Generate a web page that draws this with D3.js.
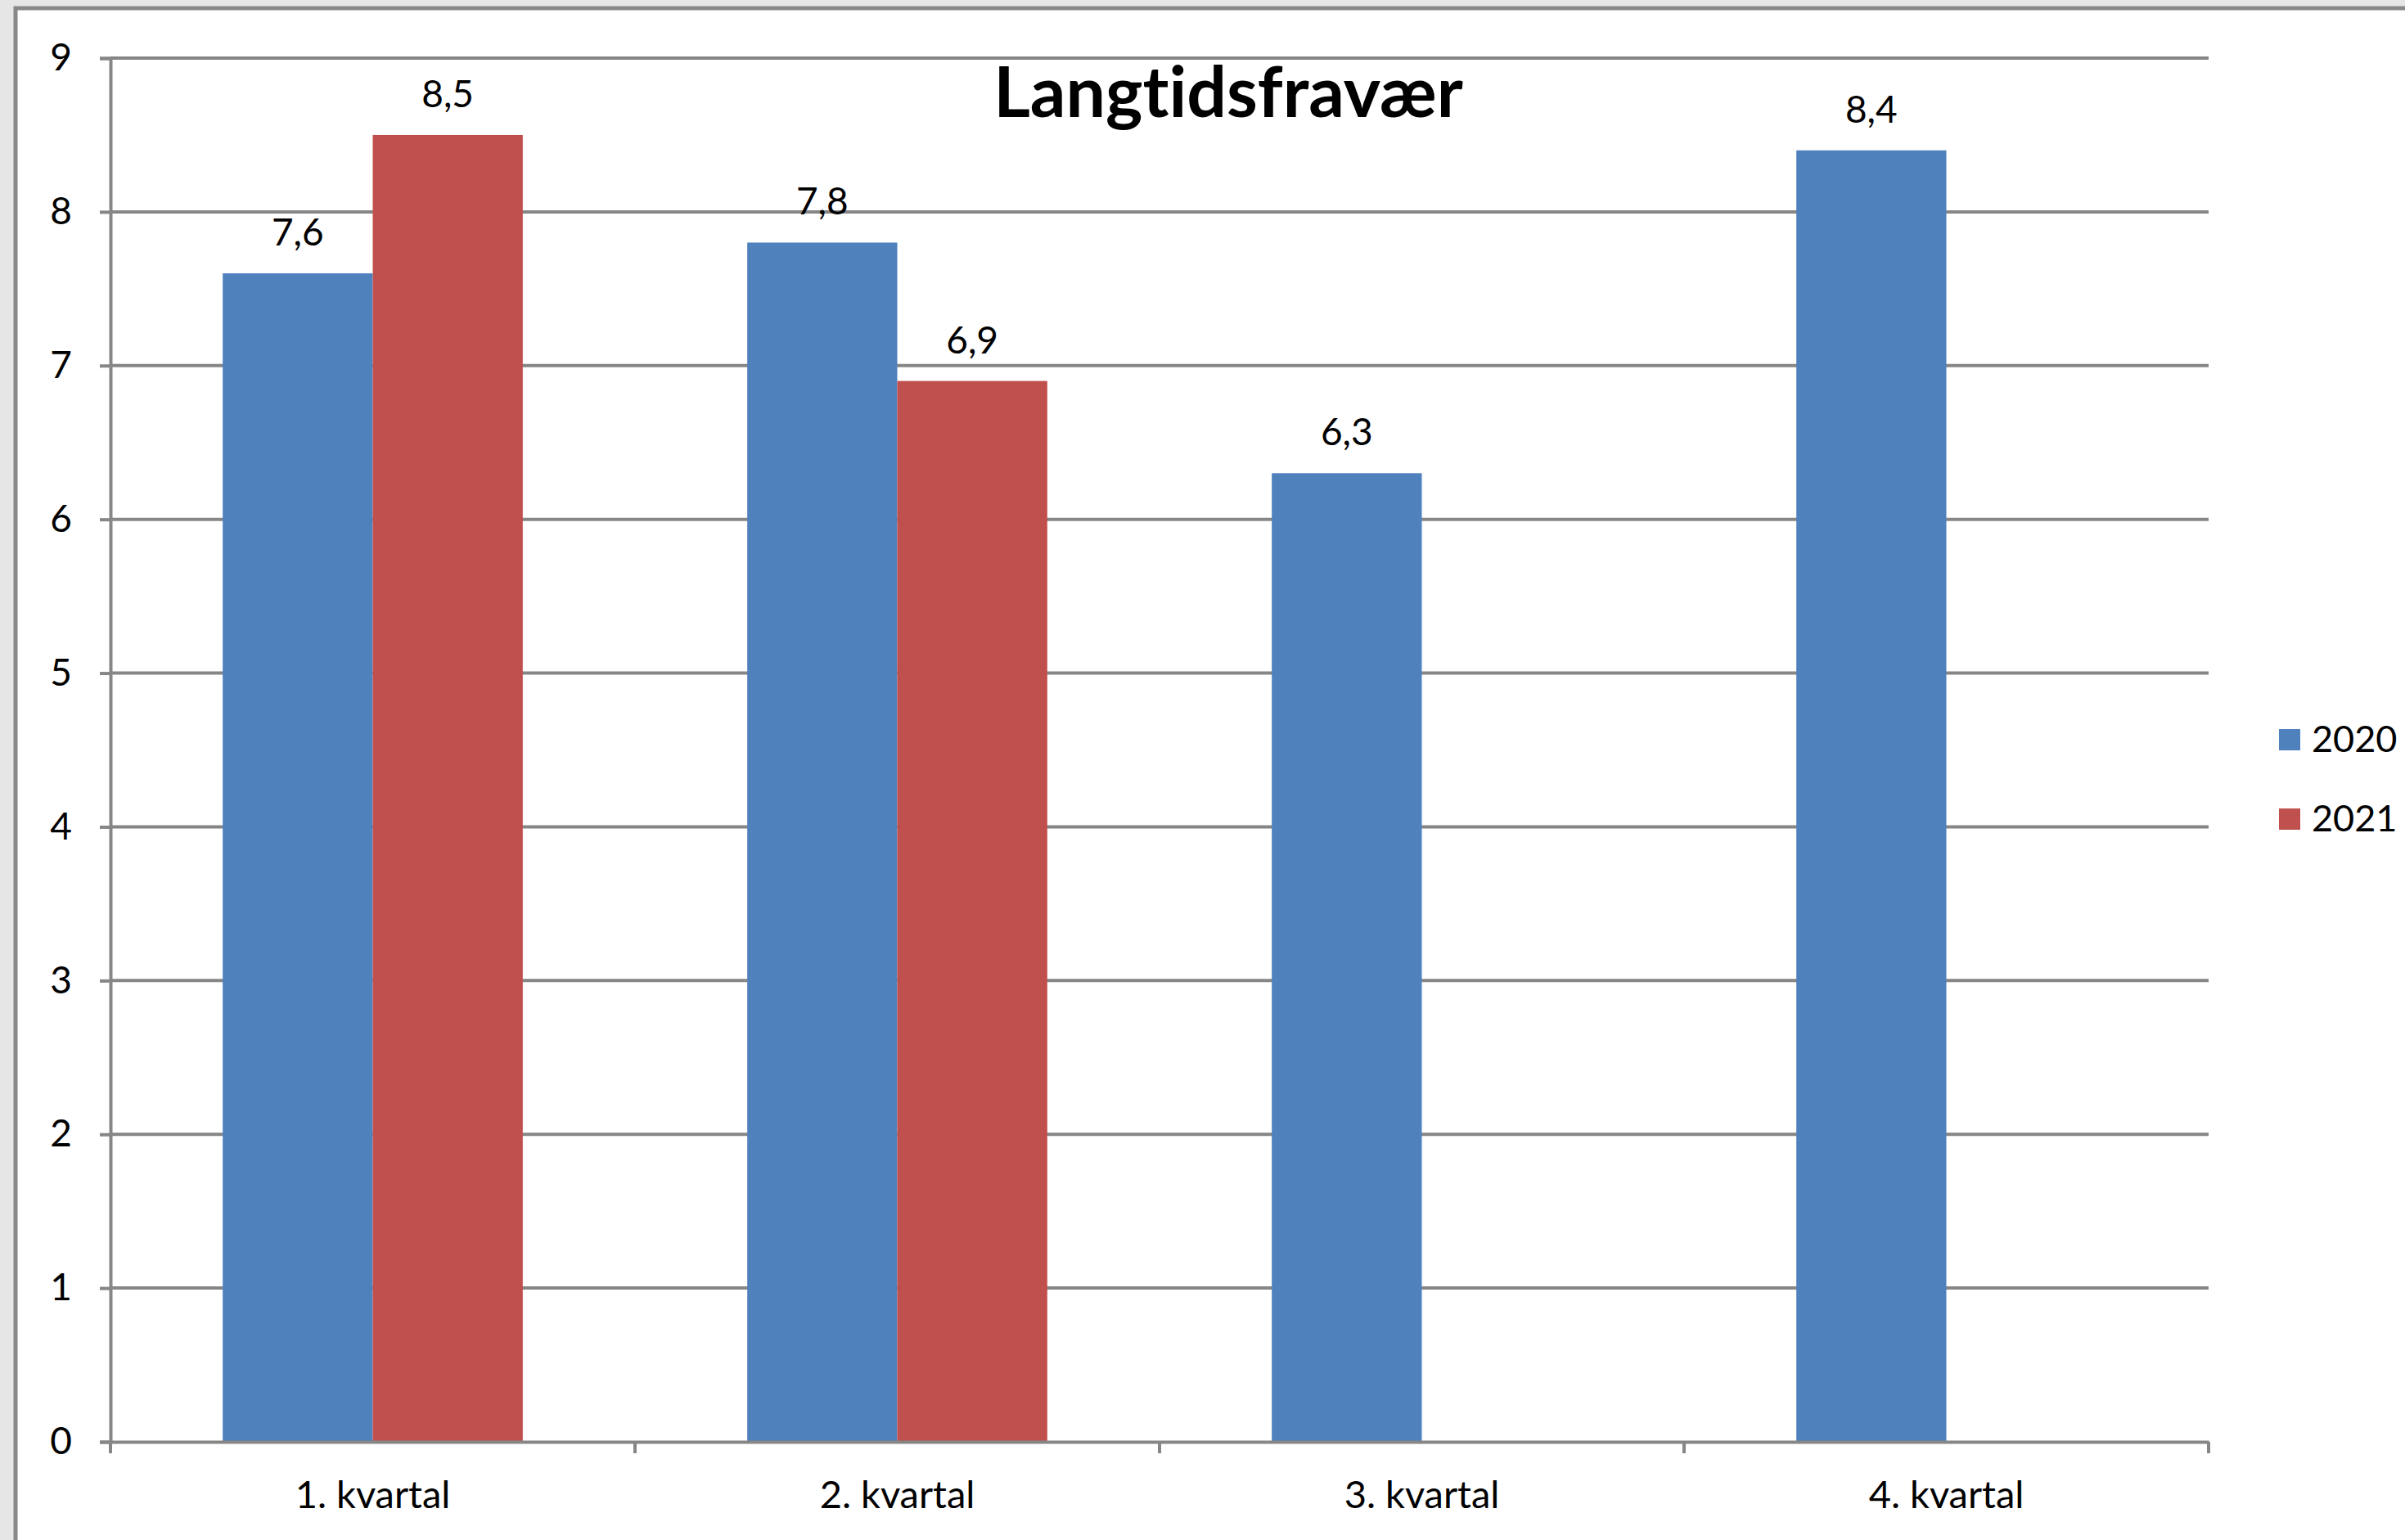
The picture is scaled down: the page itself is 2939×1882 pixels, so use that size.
<!DOCTYPE html>
<html>
<head>
<meta charset="utf-8">
<script src="https://cdn.jsdelivr.net/npm/d3@7"></script>
<style>
  body { margin: 0; background: #e6e6e6; }
  text { font-family: Lato, "Open Sans", sans-serif; fill: #000; font-variant-ligatures: none; }
</style>
</head>
<body>
<div id="chart"></div>
<script>
// data
var categories = ["1. kvartal", "2. kvartal", "3. kvartal", "4. kvartal"];
var seriesNames = ["2020", "2021"];
var values2020 = [7.6, 7.8, 6.3, 8.4];
var values2021 = [8.5, 6.9, null, null];
var yTicks = [0, 1, 2, 3, 4, 5, 6, 7, 8, 9];
var colors = ["#4f81bd", "#c0504d"];

var W = 2939, H = 1882;
var margin = {top: 71, left: 135, right: W - 2699, bottom: H - 1762};
var width = W - margin.left - margin.right;
var height = H - margin.top - margin.bottom;

var svg = d3.select("#chart").append("svg")
    .attr("width", W)
    .attr("height", H);

// chart frame
svg.append("rect")
    .attr("x", 19).attr("y", 10)
    .attr("width", W).attr("height", H)
    .attr("fill", "#fff")
    .attr("stroke", "#888")
    .attr("stroke-width", 5);

var g = svg.append("g")
    .attr("transform", "translate(" + margin.left + "," + margin.top + ")");

var x = d3.scaleBand().domain(categories).range([0, width]).paddingInner(0).paddingOuter(0);
var x1 = d3.scaleBand().domain(seriesNames).range([x.bandwidth() * 0.214, x.bandwidth() * 0.786]);
var y = d3.scaleLinear().domain([0, 9]).range([height, 0]);

// gridlines
g.append("g").selectAll("line")
    .data(yTicks.slice(1))
    .enter().append("line")
    .attr("x1", 0).attr("x2", width)
    .attr("y1", function(d) { return y(d); })
    .attr("y2", function(d) { return y(d); })
    .attr("stroke", "#868686")
    .attr("stroke-width", 4);

// y axis
var yAxis = g.append("g")
    .call(d3.axisLeft(y).tickValues(yTicks).tickSize(13).tickPadding(34).tickFormat(d3.format("d")));
yAxis.select(".domain").attr("stroke", "#868686").attr("stroke-width", 4);
yAxis.selectAll(".tick line").attr("stroke", "#868686").attr("stroke-width", 4);
yAxis.selectAll(".tick text").style("font-size", "46px").style("font-family", "Lato, sans-serif");

// bars
var rows = categories.map(function(c, i) {
  return {cat: c, vals: [values2020[i], values2021[i]]};
});

var groups = g.append("g").selectAll("g")
    .data(rows)
    .enter().append("g")
    .attr("transform", function(d) { return "translate(" + x(d.cat) + ",0)"; });

var bars = groups.selectAll("rect")
    .data(function(d) {
      return d.vals.map(function(v, j) { return {name: seriesNames[j], v: v, j: j}; })
        .filter(function(e) { return e.v != null; });
    })
    .enter();

bars.append("rect")
    .attr("x", function(d) { return x1(d.name); })
    .attr("width", x1.bandwidth())
    .attr("y", function(d) { return y(d.v); })
    .attr("height", function(d) { return height - y(d.v); })
    .attr("fill", function(d) { return colors[d.j]; });

bars.append("text")
    .attr("x", function(d) { return x1(d.name) + x1.bandwidth() / 2; })
    .attr("y", function(d) { return y(d.v) - 34; })
    .attr("text-anchor", "middle")
    .style("font-size", "46px")
    .text(function(d) { return String(d.v).replace(".", ","); });

// x axis
var xAxis = g.append("g")
    .attr("transform", "translate(0," + height + ")")
    .call(d3.axisBottom(x).tickSize(0).tickPadding(48));
xAxis.select(".domain").attr("stroke", "#868686").attr("stroke-width", 4);
xAxis.selectAll(".tick text").style("font-size", "47px").style("font-family", "Lato, sans-serif");

g.append("g").selectAll("line")
    .data(d3.range(categories.length + 1))
    .enter().append("line")
    .attr("x1", function(i) { return i * x.bandwidth(); })
    .attr("x2", function(i) { return i * x.bandwidth(); })
    .attr("y1", height).attr("y2", height + 14)
    .attr("stroke", "#868686")
    .attr("stroke-width", 4);

// title
svg.append("text")
    .attr("x", 1501).attr("y", 143)
    .attr("text-anchor", "middle")
    .style("font-size", "86px")
    .style("font-weight", "bold")
    .text("Langtidsfravær");

// legend
var legend = svg.append("g").selectAll("g")
    .data(seriesNames)
    .enter().append("g")
    .attr("transform", function(d, i) { return "translate(2785," + (904 + i * 97) + ")"; });
legend.append("rect")
    .attr("x", 0).attr("y", -13)
    .attr("width", 26).attr("height", 26)
    .attr("fill", function(d, i) { return colors[i]; });
legend.append("text")
    .attr("x", 40).attr("y", 15)
    .style("font-size", "45px")
    .text(function(d) { return d; });
</script>
</body>
</html>
